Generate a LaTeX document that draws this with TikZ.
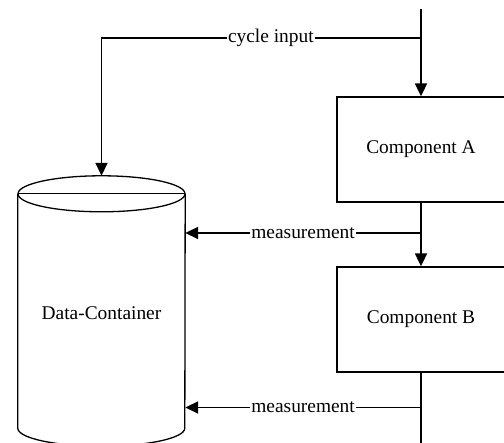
\documentclass[tikz,border=0pt]{standalone}
\usepackage{fontspec}
\setmainfont{Liberation Serif}
\usetikzlibrary{arrows.meta,calc}

\tikzset{
  box/.style={draw, line width=1.3pt, minimum width=168pt, minimum height=105pt, inner sep=0pt},
  wire/.style={line width=1.8pt},
  flow/.style={wire, -{Triangle[length=13pt,width=12pt]}},
  lbl/.style={fill=white, inner sep=1pt},
  txt/.style={font=\fontsize{19.4}{23}\selectfont}
}

\begin{document}
\begin{tikzpicture}[x=1pt, y=1pt, txt]
  \clip (0,0) rectangle (504,443);
  \fill[white] (0,0) rectangle (504,443);

  % process boxes
  \node[box] (A) at (421,293.5) {Component A};
  \node[box] (B) at (421,123.5) {Component B};

  % data container body (drawn below as a cylinder)
  \node[minimum width=167pt, minimum height=234pt, inner sep=0pt] (dc) at (101.5,132) {};
  \node (dclabel) at (101.5,130) {Data-Container};
  \coordinate (dctop) at ($(dc.north)+(0,18)$);

  % cylinder outline
  \draw[line width=1.3pt] (dc.north west) -- (dc.south west)
        arc[start angle=180, end angle=360, x radius=83.5pt, y radius=18pt]
        -- (dc.north east);
  \draw[line width=1.3pt] (dc.north) ellipse[x radius=83.5pt, y radius=18pt];
  \draw[line width=1.3pt] (dc.north west) -- (dc.north east);

  % main flow
  \coordinate (in) at (421,434);
  \coordinate (j1) at (421,405.3);
  \coordinate (j2) at (421,210);
  \coordinate (j3) at (421,35.5);
  \coordinate (out) at (421,-5);
  \coordinate (corner) at (101.5,405.3);

  \draw[flow] (in) -- (A.north);
  \draw[flow] (A.south) -- (B.north);
  \draw[wire] (B.south) -- (out);

  % feedback and measurement links
  \draw[flow] (j1) -- node[lbl, pos=0.47] {cycle input} (corner) -- (dctop);
  \draw[flow] (j2) -- node[lbl] {measurement} (dc.east |- j2);
  \draw[flow] (j3) -- node[lbl] {measurement} (dc.east |- j3);
\end{tikzpicture}
\end{document}
